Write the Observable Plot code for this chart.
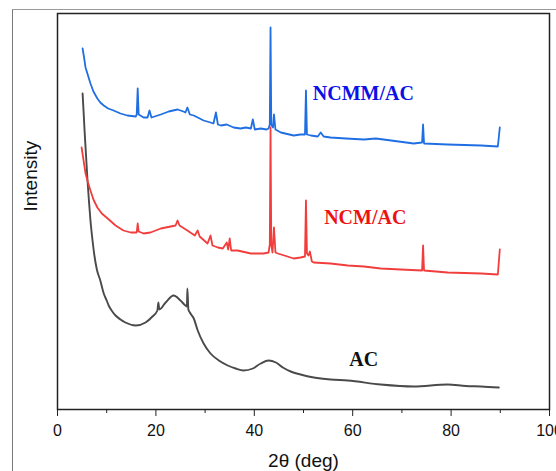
<!DOCTYPE html>
<html>
<head>
<meta charset="utf-8">
<script src="https://cdn.jsdelivr.net/npm/d3@7"></script>
<script src="https://cdn.jsdelivr.net/npm/@observablehq/plot@0.6"></script>
<style>
  html, body { margin: 0; padding: 0; background: #fff; }
  #wrap { position: relative; width: 556px; height: 471px; overflow: hidden; }
  #outer { position: absolute; left: 12px; top: 9px; right: -2px; bottom: -2px;
           border-left: 1px solid #7a7a7a; border-top: 1px solid #9a9a9a; pointer-events: none; }
</style>
</head>
<body>
<div id="wrap"><div id="outer"></div></div>
<script>
// ---- Data (2θ in degrees, intensity in arbitrary units) ----
const ncmmX = [5.1,5.4,5.7,6.2,6.7,7.3,8.1,8.7,9.4,10.3,11.4,12.8,14.2,15.9,16.1,16.3,16.5,17.5,18.3,18.7,19.1,21.0,22.6,24.4,25.6,26.0,26.4,26.9,27.7,29.7,31.1,31.7,32.2,32.6,33.2,34.4,35.8,37.2,38.3,39.3,39.7,40.1,41.3,42.5,42.9,43.15,43.3,43.45,43.8,44.0,44.3,45.4,48.0,49.4,50.3,50.5,50.7,51.5,52.9,53.5,54.1,55.5,58.6,62.3,64.7,67.8,72.4,74.1,74.3,74.5,79.3,86.1,89.5,89.9];
const ncmmY = [361,352,342,334,326,318,311,307,304,301,299,296,294,293,295,321,295,292,292,299,292,295,298,300,298,297,302,295,294,289,287,286,297,285,284,285,282,281,282,281,290,280,281,280,281,285,382,285,282,295,280,277,274,275,275,319,275,274,273,277,273,272,271,270,271,269,266,267,285,266,265,264,263,282];

const ncmX = [4.9,5.3,5.7,6.2,6.7,7.3,8.1,9.0,10.2,11.8,13.4,14.9,16.1,16.3,16.5,17.5,18.9,21.0,23.0,24.0,24.4,24.8,26.4,27.9,28.5,28.9,30.5,31.1,31.5,32.6,33.6,34.4,34.7,35.0,35.3,36.6,39.3,41.9,42.9,43.15,43.3,43.45,43.7,44.0,44.3,44.8,48.0,49.4,50.3,50.5,50.7,51.0,51.3,51.7,52.1,55.5,59.0,62.3,65.7,69.8,74.1,74.3,74.5,79.3,86.1,89.5,89.9];
const ncmY = [262,249,236,227,219,210,202,196,191,184,179,177,177,186,178,176,177,181,183,184,189,184,179,174,179,173,166,174,164,162,161,167,160,171,159,159,156,156,157,165,282,165,157,182,157,156,151,152,153,209,156,154,158,148,147,146,144,143,141,140,139,164,139,137,136,135,160];

const acX = [5.1,5.3,5.5,5.8,6.1,6.4,6.7,7.1,7.5,8.0,8.7,9.4,10.0,10.4,11.0,11.8,12.8,13.8,15.9,17.9,19.3,20.3,20.5,20.7,21.97,23.6,25.0,26.0,26.3,26.4,26.6,26.9,27.7,28.5,29.7,31.1,32.8,34.6,36.2,37.8,39.7,41.3,42.9,44.4,45.8,47.4,49.4,52.1,55.5,59.0,65.7,72.4,79.3,83.0,86.1,89.7];
const acY = [316,298,279,254,229,208,189,170,154,140,129,116,109,104,99,94,90,87,84,87,93,99,107,100,107,114,109,104,103,121,100,97,91,79,66,56,49,44,41,39,41,46,49,47,42,38,35,32,30,29,25,23,25,23.5,23,22];

const seriesNames = ["NCMM/AC", "NCM/AC", "AC"];
const labelX = [51.9, 54.2, 59.3];
const labelY = [316, 192, 50];
const xTicks = [0, 20, 40, 60, 80, 100];
const xMinorTicks = [10, 30, 50, 70, 90];

// ---- Build tidy table ----
const rows = [];
[[ncmmX, ncmmY, "NCMM/AC"], [ncmX, ncmY, "NCM/AC"], [acX, acY, "AC"]].forEach(([xs, ys, s]) => {
  xs.forEach((x, i) => rows.push({x, y: ys[i], series: s}));
});
const labels = seriesNames.map((s, i) => ({text: s, x: labelX[i], y: labelY[i]}));

const lineColors = {"NCMM/AC": "#1f6fe3", "NCM/AC": "#f23d3d", "AC": "#4a4a4a"};
const textColors = {"NCMM/AC": "#0a10e6", "NCM/AC": "#ee1111", "AC": "#111111"};

const chart = Plot.plot({
  width: 556,
  height: 471,
  marginLeft: 57,
  marginRight: 7,
  marginTop: 13,
  marginBottom: 62,
  x: {domain: [0, 100]},
  y: {domain: [0, 396], axis: null},
  style: {fontFamily: "'Liberation Sans', Arial, sans-serif", color: "#111", background: "transparent", overflow: "visible"},
  marks: [
    Plot.line(rows.filter(d => d.series === "AC"), {x: "x", y: "y", stroke: lineColors["AC"], strokeWidth: 1.9, curve: "monotone-x"}),
    Plot.line(rows.filter(d => d.series === "NCM/AC"), {x: "x", y: "y", stroke: lineColors["NCM/AC"], strokeWidth: 1.8}),
    Plot.line(rows.filter(d => d.series === "NCMM/AC"), {x: "x", y: "y", stroke: lineColors["NCMM/AC"], strokeWidth: 1.8}),
    Plot.text(labels, {x: "x", y: "y", text: "text", fill: d => textColors[d.text], textAnchor: "start",
      fontSize: 20, fontWeight: "bold", fontFamily: "'Liberation Serif', 'Times New Roman', serif"}),
    Plot.frame({stroke: "#222", strokeWidth: 1.5}),
    Plot.axisX({ticks: xMinorTicks, tickSize: 4, tickFormat: () => "", label: null, stroke: "#222"}),
    Plot.axisX({ticks: xTicks, tickSize: 7, tickPadding: 8, fontSize: 16, label: null, stroke: "#222", fill: "#111", tickFormat: d => String(d)}),
    Plot.text(["2θ (deg)"], {frameAnchor: "bottom", dy: 51, lineAnchor: "middle", fontSize: 19, fill: "#111"}),
    Plot.text(["Intensity"], {frameAnchor: "left", dx: -27, rotate: -90, lineAnchor: "middle", fontSize: 19, fill: "#111"})
  ]
});
document.getElementById("wrap").appendChild(chart);
</script>
</body>
</html>
